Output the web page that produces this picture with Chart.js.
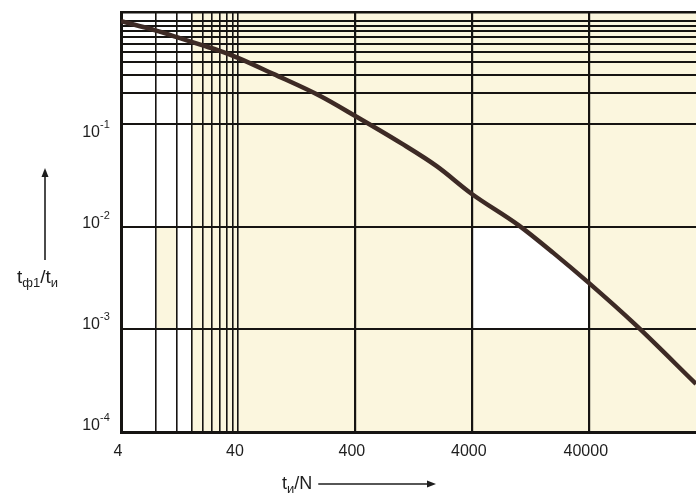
<!DOCTYPE html>
<html>
<head>
<meta charset="utf-8">
<script src="https://cdn.jsdelivr.net/npm/chart.js@4.4.1/dist/chart.umd.min.js"></script>
<style>
  html, body { margin: 0; padding: 0; background: #ffffff; }
  canvas { display: block; }
</style>
</head>
<body>
<canvas id="chart" width="696" height="493"></canvas>
<script>
// t_ф1/t_и as a function of t_и/N (log–log)
const ratioTN = [4, 8, 12, 20, 28, 40, 80, 200, 400, 1000, 2000, 4000, 10000, 20000, 40000, 100000, 330000];
const ratioTF = [1.0, 0.81, 0.70, 0.581, 0.514, 0.44, 0.307, 0.188, 0.120, 0.0646, 0.0388, 0.0208, 0.01035, 0.00552, 0.00283, 0.00111, 0.000294];

// x grid: fine divisions 4…40, then decades
const xGridValues = [4, 8, 12, 16, 20, 24, 28, 32, 36, 40, 400, 4000, 40000];
const xTickLabels = ['4', '40', '400', '4000', '40000'];
const xMin = 4, xMax = 330000;

// y grid: decades plus 0.2 … 1.0 near the top
const yGridValues = [1e-4, 1e-3, 1e-2, 1e-1, 0.2, 0.3, 0.4, 0.5, 0.6, 0.7, 0.8, 0.9, 1.0];
const yDecades = [1e-1, 1e-2, 1e-3, 1e-4];
const yExponents = ['-1', '-2', '-3', '-4'];
const yMin = 1e-4, yMax = 1.23;

const INK = '#161412';
const PAPER = '#fbf6de';
const CURVE = '#3d2a25';
const FONT = '"Liberation Sans", Arial, sans-serif';

// paper background with the lighter (white) zones of the sheet
const paperPlugin = {
  id: 'paper',
  beforeDraw(chart) {
    const { ctx, chartArea: ca, scales: { x, y } } = chart;
    ctx.save();
    ctx.fillStyle = '#ffffff';
    ctx.fillRect(0, 0, chart.width, chart.height);
    ctx.fillStyle = PAPER;
    ctx.fillRect(ca.left, ca.top, ca.right - ca.left, ca.bottom - ca.top);

    ctx.fillStyle = '#ffffff';
    const x4 = x.getPixelForValue(4), x8 = x.getPixelForValue(8);
    const x12 = x.getPixelForValue(12), x16 = x.getPixelForValue(16);
    ctx.fillRect(x4, ca.top, x16 - x4, ca.bottom - ca.top);
    ctx.fillStyle = PAPER;
    const y2 = y.getPixelForValue(1e-2), y3 = y.getPixelForValue(1e-3);
    ctx.fillRect(x8, y2, x12 - x8, y3 - y2);

    // white cell 4000–40000 × 1e-3–1e-2, below the curve
    const pts = chart.getDatasetMeta(0).data;
    ctx.beginPath();
    ctx.moveTo(pts[0].x, pts[0].y);
    for (let i = 1; i < pts.length; i++) ctx.lineTo(pts[i].x, pts[i].y);
    ctx.lineTo(ca.right, ca.bottom);
    ctx.lineTo(ca.left, ca.bottom);
    ctx.closePath();
    ctx.clip();
    ctx.fillStyle = '#ffffff';
    const xa = x.getPixelForValue(4000), xb = x.getPixelForValue(40000);
    ctx.fillRect(xa, y2, xb - xa, y3 - y2);
    ctx.restore();
  }
};

// y tick labels with exponents, and both axis titles with subscripts and arrows
const labelsPlugin = {
  id: 'axisText',
  afterDraw(chart) {
    const { ctx, scales: { y } } = chart;
    const nudges = [13, 1, 0, -2];
    ctx.save();
    ctx.fillStyle = '#1e1e1e';
    ctx.textBaseline = 'alphabetic';
    yDecades.forEach((v, i) => {
      const py = y.getPixelForValue(v) + nudges[i];
      ctx.font = '16px ' + FONT;
      ctx.textAlign = 'right';
      ctx.fillText('10', 100, py);
      ctx.font = '11px ' + FONT;
      ctx.textAlign = 'left';
      ctx.fillText(yExponents[i], 100, py - 9);
    });

    // run of text pieces: [text, size, baseline shift]
    const drawRun = (parts, x0, base) => {
      let cx = x0;
      ctx.textAlign = 'left';
      parts.forEach(([t, s, dy]) => {
        ctx.font = s + 'px ' + FONT;
        ctx.fillText(t, cx, base + dy);
        cx += ctx.measureText(t).width;
      });
      return cx;
    };

    // y title with upward arrow
    drawRun([['t', 19, 0], ['ф1', 13, 4], ['/t', 19, 0], ['и', 13, 4]], 17, 283);
    ctx.strokeStyle = '#1e1e1e';
    ctx.lineWidth = 1.6;
    ctx.beginPath();
    ctx.moveTo(45, 260);
    ctx.lineTo(45, 176);
    ctx.stroke();
    ctx.beginPath();
    ctx.moveTo(45, 168);
    ctx.lineTo(41.5, 177);
    ctx.lineTo(48.5, 177);
    ctx.closePath();
    ctx.fill();

    // x title with arrow to the right
    const end = drawRun([['t', 18, 0], ['и', 13, 4], ['/N', 18, 0]], 282, 489);
    const ay = 484;
    ctx.beginPath();
    ctx.moveTo(end + 6, ay);
    ctx.lineTo(428, ay);
    ctx.stroke();
    ctx.beginPath();
    ctx.moveTo(436, ay);
    ctx.lineTo(427, ay - 3.5);
    ctx.lineTo(427, ay + 3.5);
    ctx.closePath();
    ctx.fill();
    ctx.restore();
  }
};

new Chart(document.getElementById('chart'), {
  type: 'line',
  data: {
    datasets: [{
      data: ratioTN.map((n, i) => ({ x: n, y: ratioTF[i] })),
      borderColor: CURVE,
      borderWidth: 4.5,
      pointRadius: 0,
      cubicInterpolationMode: 'monotone',
      fill: false
    }]
  },
  options: {
    responsive: false,
    animation: false,
    devicePixelRatio: 1,
    layout: { padding: { left: 0, top: 12, right: 0, bottom: 0 } },
    plugins: { legend: { display: false }, tooltip: { enabled: false } },
    scales: {
      x: {
        type: 'logarithmic',
        min: xMin,
        max: xMax,
        afterBuildTicks: (s) => { s.ticks = xGridValues.map(v => ({ value: v })); },
        afterFit: (s) => { s.height = 61; },
        ticks: {
          autoSkip: false,
          maxRotation: 0,
          padding: 10,
          labelOffset: -3,
          color: '#1e1e1e',
          font: { family: FONT, size: 16 },
          callback: (v) => {
            const i = xTickLabels.indexOf(String(v));
            return i >= 0 ? xTickLabels[i] : '';
          }
        },
        grid: {
          color: INK,
          drawTicks: false,
          lineWidth: (c) => (c.tick && c.tick.value > 40 ? 2.2 : 1.6)
        },
        border: { display: true, color: INK, width: 3 }
      },
      y: {
        type: 'logarithmic',
        min: yMin,
        max: yMax,
        afterBuildTicks: (s) => { s.ticks = yGridValues.concat([yMax]).map(v => ({ value: v })); },
        afterFit: (s) => { s.width = 121; },
        ticks: { display: false },
        grid: {
          color: INK,
          drawTicks: false,
          lineWidth: (c) => (c.tick && c.tick.value === yMax ? 2.6 : 2.1)
        },
        border: { display: true, color: INK, width: 3 }
      }
    }
  },
  plugins: [paperPlugin, labelsPlugin]
});
</script>
</body>
</html>
